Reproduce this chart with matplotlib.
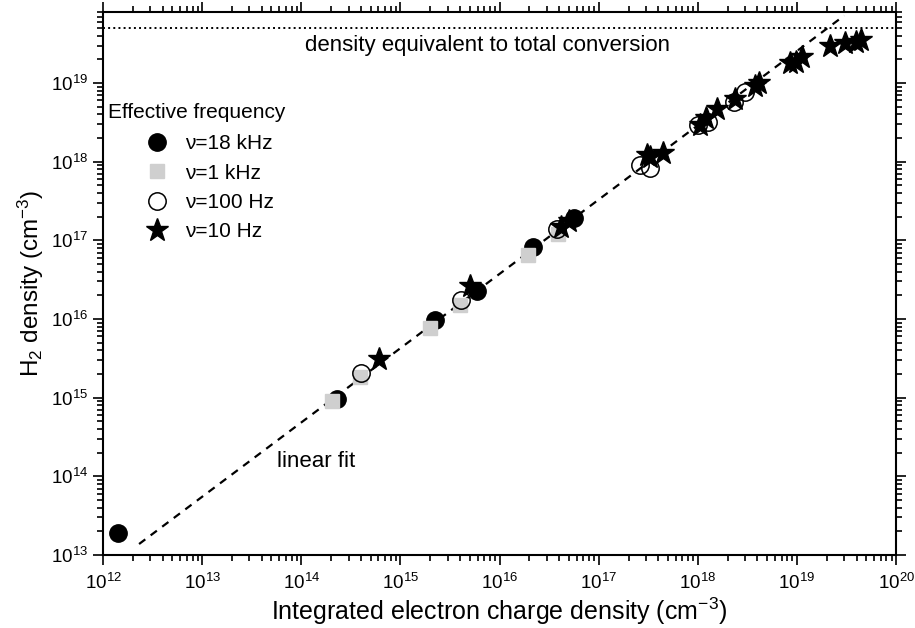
import matplotlib
matplotlib.use("Agg")
import matplotlib.pyplot as plt
from matplotlib.ticker import LogLocator, NullFormatter
import numpy as np

plt.rcParams['font.family'] = ['Liberation Sans', 'DejaVu Sans']
plt.rcParams['mathtext.default'] = 'regular'

# data (cm^-3)
x_18k = [1.42e12, 2.3e14, 2.24e15, 5.9e15, 2.2e16, 5.6e16]
y_18k = [1.9e13, 9.6e14, 9.7e15, 2.3e16, 8.3e16, 1.9e17]

x_1k = [2.06e14, 3.9e14, 2.0e15, 4.0e15, 1.95e16, 3.9e16]
y_1k = [9.1e14, 1.84e15, 7.6e15, 1.5e16, 6.5e16, 1.2e17]

x_100 = [4.0e14, 4.1e15, 3.8e16, 2.6e17, 3.3e17, 1.0e18, 1.28e18, 2.3e18, 3.0e18]
y_100 = [2.05e15, 1.74e16, 1.4e17, 9.1e17, 8.2e17, 2.9e18, 3.2e18, 5.8e18, 7.7e18]

x_10 = [6.1e14, 5.0e15, 4.2e16, 5.0e16, 3.1e17, 3.3e17, 4.5e17, 1.05e18, 1.2e18,
        1.57e18, 2.4e18, 3.8e18, 4.1e18, 8.5e18, 9.7e18, 1.12e19, 2.17e19,
        3.07e19, 3.9e19, 4.4e19]
y_10 = [3.07e15, 2.6e16, 1.5e17, 1.75e17, 1.2e18, 1.15e18, 1.3e18, 2.9e18, 3.6e18,
        4.7e18, 6.3e18, 9.3e18, 1.0e19, 1.78e19, 1.85e19, 2.14e19, 3.0e19,
        3.2e19, 3.3e19, 3.5e19]

# linear fit (log-log) end points and total conversion level
fit_x = [2.31e12, 3.0e19]
fit_y = [1.38e13, 7.2e19]
total_conversion = 5e19

x_ticks = [1e12, 1e13, 1e14, 1e15, 1e16, 1e17, 1e18, 1e19, 1e20]
y_ticks = [1e13, 1e14, 1e15, 1e16, 1e17, 1e18, 1e19]

fig = plt.figure(figsize=(9.15, 6.28), dpi=100)
ax = fig.add_axes([0.1126, 0.1162, 0.8667, 0.8647])

ax.plot(fit_x, fit_y, color='black', lw=1.6, dashes=(3.5, 3))
ax.axhline(total_conversion, color='black', lw=1.4, ls=':')

ax.plot(x_18k, y_18k, 'o', color='black', ms=12.5, label='\u03bd=18 kHz')
ax.plot(x_1k, y_1k, 's', color='#cfcfcf', mec='#cfcfcf', ms=10, label='\u03bd=1 kHz')
ax.plot(x_100, y_100, 'o', mfc='none', mec='black', mew=1.1, ms=12.5, label='\u03bd=100 Hz')
ax.plot(x_10, y_10, '*', color='black', ms=17, label='\u03bd=10 Hz')

ax.set_xscale('log')
ax.set_yscale('log')
ax.set_xlim(1e12, 1e20)
ax.set_ylim(1e13, 8e19)
ax.set_xticks(x_ticks)
ax.set_yticks(y_ticks)

for axis in (ax.xaxis, ax.yaxis):
    axis.set_minor_locator(LogLocator(base=10, subs=np.arange(2, 10), numticks=200))
    axis.set_minor_formatter(NullFormatter())

ax.tick_params(which='both', direction='out', top=True, right=True, width=1.2, labelsize=13.5)
ax.tick_params(which='major', length=7)
ax.tick_params(which='minor', length=4)
ax.tick_params(axis='x', pad=6)
for s in ax.spines.values():
    s.set_linewidth(1.5)

ax.set_xlabel('Integrated electron charge density (cm$^{-3}$)', fontsize=18, labelpad=2)
ax.set_ylabel('H$_2$ density (cm$^{-3}$)', fontsize=17.5, labelpad=4)

ax.text(1.1e14, 3.0e19, 'density equivalent to total conversion', fontsize=16,
        ha='left', va='center')
ax.text(5.7e13, 1.56e14, 'linear fit', fontsize=16, ha='left', va='center')

ax.text(0.006, 0.814, 'Effective frequency', fontsize=15, transform=ax.transAxes,
        ha='left', va='center')
ax.legend(loc='upper left', bbox_to_anchor=(0.0567, 0.775), frameon=False,
          fontsize=15, handlelength=0.9, handletextpad=0.9, labelspacing=0.5,
          borderpad=0, borderaxespad=0, numpoints=1)

fig.savefig('out.png', dpi=100)
